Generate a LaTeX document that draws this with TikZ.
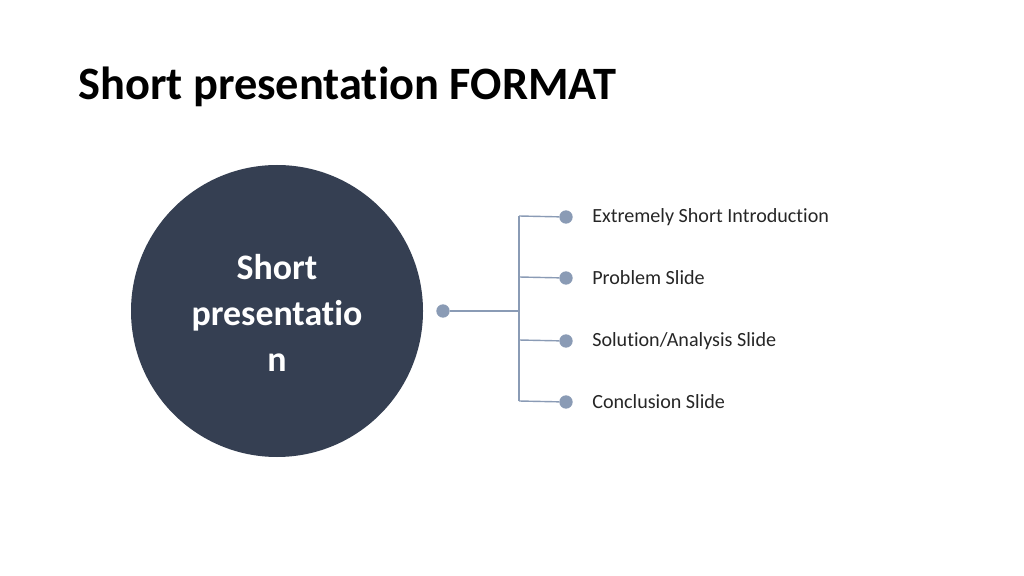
\documentclass[tikz,border=0pt]{standalone}
\usepackage{fontspec}
\setmainfont[Ligatures={NoCommon}]{Carlito}
\definecolor{navy}{HTML}{353F52}
\definecolor{steel}{HTML}{8A9BB5}
\begin{document}
\begin{tikzpicture}[x=0.025cm,y=-0.025cm,
  dot/.style={circle,fill=steel,inner sep=0pt,minimum size=9.5pt},
  lbl/.style={anchor=west,inner sep=0pt,font=\fontsize{14.3pt}{16pt}\selectfont,text=black!85},
  conn/.style={draw=steel,line width=1pt}]
\useasboundingbox (0,0) rectangle (1024,576);
\node[anchor=base west,font=\bfseries\fontsize{33pt}{38pt}\selectfont,inner sep=0pt] (title) at (78,100) {Short presentation FORMAT};
\node[circle,fill=navy,minimum size=292*0.025cm,inner sep=0pt] (c) at (277,311) {};
\node[align=center,text=white,font=\bfseries\fontsize{25.5pt}{32.5pt}\selectfont] (ct) at (277,313) {Short\\presentatio\\n};
\node[dot] (d0) at (443,311) {};
\coordinate (j) at (519,311);
\coordinate (top) at (519,216);
\coordinate (bot) at (519,401);
\draw[conn] (d0) -- (j);
\draw[conn] (top) -- (bot);
\foreach \i/\y/\t in {1/217/{Extremely Short Introduction},2/278/{Problem Slide},3/341/{Solution/Analysis Slide},4/402/{Conclusion Slide}}{
  \node[dot] (b\i) at (566,\y) {};
  \coordinate (s\i) at (519,\y-1);
  \draw[conn] (s\i) -- (b\i);
  \node[lbl] (l\i) at (592,\y) {\t};
}
\end{tikzpicture}
\end{document}
